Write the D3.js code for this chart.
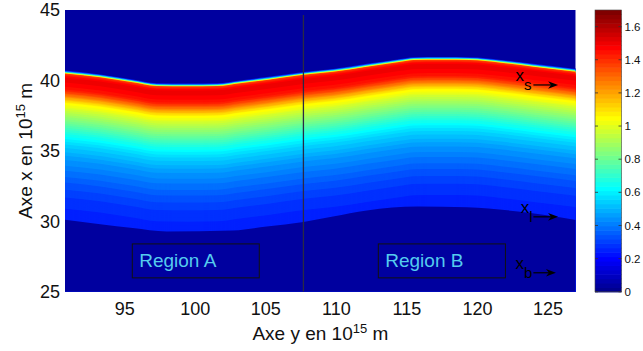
<!DOCTYPE html>
<html>
<head>
<meta charset="utf-8">
<script src="https://cdn.jsdelivr.net/npm/d3@7"></script>
<style>
  html, body { margin: 0; padding: 0; background: #fff; }
  svg { display: block; font-family: "Liberation Sans", Arial, Helvetica, sans-serif; }
</style>
</head>
<body>
<svg id="chart" width="643" height="351"></svg>
<script>
// ---------------- data ----------------
const yTicks = [95, 100, 105, 110, 115, 120, 125];       // horizontal axis ("Axe y")
const xTicks = [25, 30, 35, 40, 45];                      // vertical axis ("Axe x")
const cbTicks = [0, 0.2, 0.4, 0.6, 0.8, 1, 1.2, 1.4, 1.6];
const cbTickLabels = ["0", "0.2", "0.4", "0.6", "0.8", "1", "1.2", "1.4", "1.6"];
const yDomain = [90.8, 127];
const xDomain = [25, 45];
const cDomain = [0, 1.7];

// upper front x_s(y)
const topY = [90.8, 93.3, 95.6, 97.3, 99.5, 101.6, 103.2, 105.1, 107.7, 109.8, 112.2, 114.6, 115.5, 117.5, 119.5, 121.7, 124.0, 127.0];
const topX = [40.5, 40.23, 39.87, 39.6, 39.58, 39.6, 39.8, 40.04, 40.4, 40.62, 40.98, 41.33, 41.45, 41.47, 41.45, 41.26, 40.98, 40.62];

// lower front x_b(y)
const botY = [90.8, 93.3, 95.6, 98.0, 102.7, 105.1, 107.7, 109.8, 112.2, 115.8, 119.3, 122.9, 127.0];
const botX = [30.11, 29.8, 29.52, 29.28, 29.35, 29.63, 29.95, 30.34, 30.77, 31.05, 31.0, 30.7, 30.1];

// value profile vs depth below the upper front
const profileDepth = [-0.25, -0.12, 0, 0.15, 0.3, 0.8, 1.2, 1.5, 1.8, 2.1, 2.5, 3.0, 3.5, 4.0, 4.5, 5.0, 5.5, 6.0, 7.0, 8.0, 9.0, 10.6];
const profileValue = [0.04, 0.6, 1.38, 1.46, 1.5, 1.48, 1.42, 1.3, 1.17, 1.06, 0.98, 0.89, 0.8, 0.71, 0.63, 0.56, 0.51, 0.46, 0.39, 0.33, 0.28, 0.24];
const outsideValue = 0.04;

const dividerY = 107.7;

const regionLabels = ["Region A", "Region B"];
const annotLabels = [["x", "s"], ["x", "l"], ["x", "b"]];

// ---------------- layout ----------------
const plot = { left: 65, right: 575.7, top: 10, bottom: 291.8 };
const cb = { left: 595, right: 621.5, top: 10, bottom: 291.8 };

const svg = d3.select("#chart");
const sx = d3.scaleLinear().domain(yDomain).range([plot.left, plot.right]);
const sv = d3.scaleLinear().domain(xDomain).range([plot.bottom, plot.top]);
const sc = d3.scaleLinear().domain(cDomain).range([cb.bottom, cb.top]);

// MATLAB jet(64)
function jet64(i) {
  const u = k => k <= 16 ? k / 16 : (k <= 31 ? 1 : (48 - k) / 16);
  const n = i + 1;
  const r = n >= 25 ? u(n - 24) : 0;
  const g = (n >= 9 && n <= 55) ? u(n - 8) : 0;
  const b = n <= 39 ? u(n + 8) : 0;
  return d3.rgb(Math.round(r * 255), Math.round(g * 255), Math.round(b * 255)).toString();
}
const colorIndex = d3.scaleQuantize().domain(cDomain).range(d3.range(64));
const colorOf = v => jet64(colorIndex(Math.max(cDomain[0], Math.min(cDomain[1] - 1e-9, v))));

// ---------------- heat field ----------------
svg.append("defs").append("clipPath").attr("id", "clip")
  .append("rect").attr("x", plot.left).attr("y", plot.top)
  .attr("width", plot.right - plot.left).attr("height", plot.bottom - plot.top);

const field = svg.append("g").attr("clip-path", "url(#clip)");
field.append("rect")
  .attr("x", plot.left).attr("y", plot.top)
  .attr("width", plot.right - plot.left).attr("height", plot.bottom - plot.top)
  .attr("fill", colorOf(outsideValue));

const valueAtDepth = d3.scaleLinear().domain(profileDepth).range(profileValue).clamp(true);
const topPts = topY.map((y, i) => [y, topX[i]]);
const depths = d3.range(profileDepth[0], profileDepth[profileDepth.length - 1] + 1e-9, 0.05);

depths.forEach(dep => {
  const area = d3.area()
    .x(p => sx(p[0]))
    .y0(sv(xDomain[0]) + 2)
    .y1(p => sv(p[1] - dep))
    .curve(d3.curveMonotoneX);
  field.append("path")
    .attr("d", area(topPts))
    .attr("fill", colorOf(valueAtDepth(dep)));
});

const botPts = botY.map((y, i) => [y, botX[i]]);
field.append("path")
  .attr("d", d3.area().x(p => sx(p[0])).y0(sv(xDomain[0]) + 2).y1(p => sv(p[1])).curve(d3.curveMonotoneX)(botPts))
  .attr("fill", colorOf(outsideValue));

// divider line
field.append("line")
  .attr("x1", sx(dividerY)).attr("x2", sx(dividerY))
  .attr("y1", sv(44.65)).attr("y2", sv(xDomain[0]))
  .attr("stroke", "#2a2a45").attr("stroke-width", 1.3);

// region boxes
const regionBoxes = [
  { y0: 95.57, y1: 104.57, x0: 25.99, x1: 28.40, ty: 96.06 },
  { y0: 113.01, y1: 122.02, x0: 25.99, x1: 28.40, ty: 113.5 }
];
regionBoxes.forEach((b, i) => {
  field.append("rect")
    .attr("x", sx(b.y0)).attr("y", sv(b.x1))
    .attr("width", sx(b.y1) - sx(b.y0)).attr("height", sv(b.x0) - sv(b.x1))
    .attr("fill", "none").attr("stroke", "#111").attr("stroke-width", 1);
  field.append("text")
    .attr("x", sx(b.ty)).attr("y", sv(26.77))
    .attr("font-size", 19).attr("fill", "#55ccee")
    .text(regionLabels[i]);
});

// annotations
const annots = [
  { ty: 122.73, tx: 39.96, ax: 39.68, a0: 124.0, a1: 125.75 },
  { ty: 123.1, tx: 30.6, ax: 30.32, a0: 124.0, a1: 125.75 },
  { ty: 122.73, tx: 26.63, ax: 26.35, a0: 124.0, a1: 125.6 }
];
annots.forEach((a, i) => {
  const t = svg.append("text").attr("x", sx(a.ty)).attr("y", sv(a.tx))
    .attr("font-size", 17).attr("fill", "#000");
  t.append("tspan").text(annotLabels[i][0]);
  t.append("tspan").attr("dy", 9).attr("font-size", 15).text(annotLabels[i][1]);
  const xa = sx(a.a0), xb = sx(a.a1), yy = sv(a.ax);
  svg.append("line").attr("x1", xa).attr("x2", xb - 6).attr("y1", yy).attr("y2", yy)
    .attr("stroke", "#000").attr("stroke-width", 1.2);
  svg.append("path")
    .attr("d", `M${xb},${yy} L${xb - 10},${yy - 3.8} L${xb - 7},${yy} L${xb - 10},${yy + 3.8} Z`)
    .attr("fill", "#000");
});

// ---------------- axes ----------------
const gx = svg.append("g").attr("transform", `translate(0,${plot.bottom})`)
  .call(d3.axisBottom(sx).tickValues(yTicks).tickSize(0).tickPadding(10).tickFormat(d3.format("d")));
gx.select(".domain").remove();
gx.selectAll("text").attr("font-size", 18).attr("fill", "#111").attr("font-family", "Liberation Sans, Arial, sans-serif");

const gy = svg.append("g").attr("transform", `translate(${plot.left},0)`)
  .call(d3.axisLeft(sv).tickValues(xTicks).tickSize(0).tickPadding(5).tickFormat(d3.format("d")));
gy.select(".domain").remove();
gy.selectAll("text").attr("font-size", 18).attr("fill", "#111").attr("font-family", "Liberation Sans, Arial, sans-serif");

// axis labels
const xl = svg.append("text").attr("x", (plot.left + plot.right) / 2).attr("y", 340)
  .attr("text-anchor", "middle").attr("font-size", 19).attr("fill", "#111");
xl.append("tspan").text("Axe y en 10");
xl.append("tspan").attr("dy", -7).attr("font-size", 13).text("15");
xl.append("tspan").attr("dy", 7).text(" m");

const yl = svg.append("text")
  .attr("transform", `translate(32,${(plot.top + plot.bottom) / 2}) rotate(-90)`)
  .attr("text-anchor", "middle").attr("font-size", 19).attr("fill", "#111");
yl.append("tspan").text("Axe x en 10");
yl.append("tspan").attr("dy", -7).attr("font-size", 13).text("15");
yl.append("tspan").attr("dy", 7).text(" m");

// ---------------- colorbar ----------------
const cbg = svg.append("g");
d3.range(64).forEach(i => {
  const v0 = cDomain[0] + (cDomain[1] - cDomain[0]) * i / 64;
  const v1 = cDomain[0] + (cDomain[1] - cDomain[0]) * (i + 1) / 64;
  cbg.append("rect")
    .attr("x", cb.left).attr("y", sc(v1))
    .attr("width", cb.right - cb.left).attr("height", sc(v0) - sc(v1) + 0.6)
    .attr("fill", jet64(i));
});
cbg.append("rect").attr("x", cb.left).attr("y", cb.top)
  .attr("width", cb.right - cb.left).attr("height", cb.bottom - cb.top)
  .attr("fill", "none").attr("stroke", "#444").attr("stroke-width", 0.6);
cbTicks.forEach((t, i) => {
  const y = sc(t);
  cbg.append("line").attr("x1", cb.left).attr("x2", cb.left + 3).attr("y1", y).attr("y2", y)
    .attr("stroke", "#333").attr("stroke-width", 0.8);
  cbg.append("line").attr("x1", cb.right - 3).attr("x2", cb.right).attr("y1", y).attr("y2", y)
    .attr("stroke", "#333").attr("stroke-width", 0.8);
  cbg.append("text").attr("x", cb.right + 3).attr("y", y).attr("dy", "0.36em")
    .attr("font-size", 11.5).attr("fill", "#111").text(cbTickLabels[i]);
});
</script>
</body>
</html>
